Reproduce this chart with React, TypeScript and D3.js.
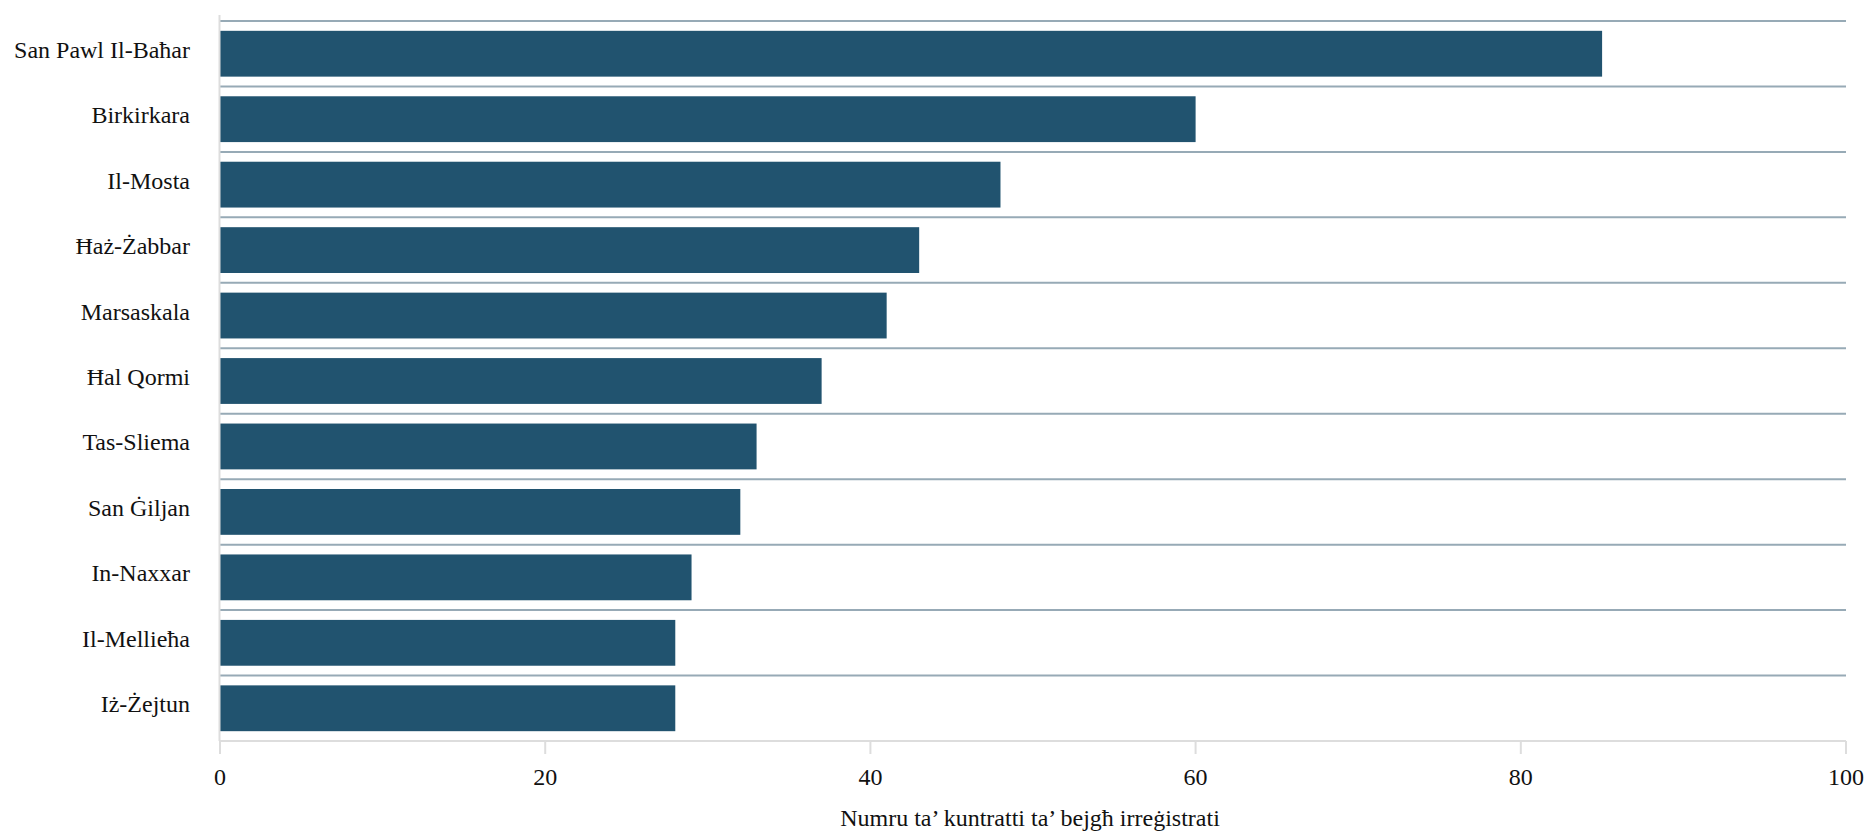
import React from "react";
import * as d3 from "d3";

const categories = [
  "San Pawl Il-Baħar",
  "Birkirkara",
  "Il-Mosta",
  "Ħaż-Żabbar",
  "Marsaskala",
  "Ħal Qormi",
  "Tas-Sliema",
  "San Ġiljan",
  "In-Naxxar",
  "Il-Mellieħa",
  "Iż-Żejtun",
];
const values = [85, 60, 48, 43, 41, 37, 33, 32, 29, 28, 28];
const xTicks = [0, 20, 40, 60, 80, 100];
const xTitle = "Numru ta’ kuntratti ta’ bejgħ irreġistrati";

const W = 1868;
const H = 833;
const M = { left: 220, right: 22, top: 21, bottom: 92 };
const FONT = '"Liberation Serif", "Times New Roman", "DejaVu Serif", serif';
const textStyle = { fontFamily: FONT, fontSize: 24 };

export default function App() {
  const x = d3.scaleLinear().domain([0, 100]).range([M.left, W - M.right]);
  const y = d3
    .scaleBand<string>()
    .domain(categories)
    .range([M.top, H - M.bottom])
    .paddingInner(0.3)
    .paddingOuter(0.15);
  const step = y.step();
  const axisY = H - M.bottom;

  return (
    <svg
      width={W}
      height={H}
      style={{ position: "absolute", left: 0, top: 0, background: "#fff" }}
    >
      {categories.map((c, i) => {
        const top = M.top + i * step;
        return (
          <line
            key={"g" + c}
            x1={x(0)}
            x2={x(100)}
            y1={top}
            y2={top}
            stroke="#97aab6"
            strokeWidth={2}
          />
        );
      })}
      {categories.map((c, i) => (
        <rect
          key={"b" + c}
          x={x(0)}
          y={y(c)}
          width={x(values[i]) - x(0)}
          height={y.bandwidth()}
          fill="#21536f"
        />
      ))}
      <line x1={x(0) - 0.5} x2={x(0) - 0.5} y1={M.top - 6} y2={axisY} stroke="#dddddd" strokeWidth={2} />
      <line x1={x(0)} x2={x(100)} y1={axisY} y2={axisY} stroke="#dddddd" strokeWidth={2} />
      {xTicks.map((t) => (
        <g key={"t" + t}>
          <line x1={x(t)} x2={x(t)} y1={axisY} y2={axisY + 13} stroke="#dddddd" strokeWidth={2} />
          <text x={x(t)} y={axisY + 44} textAnchor="middle" style={textStyle} fill="#111">
            {t}
          </text>
        </g>
      ))}
      {categories.map((c) => (
        <text
          key={"l" + c}
          x={190}
          y={(y(c) as number) + y.bandwidth() / 2 + 4}
          textAnchor="end"
          style={textStyle}
          fill="#111"
        >
          {c}
        </text>
      ))}
      <text x={(x(0) + x(100)) / 2 - 3} y={826} textAnchor="middle" style={textStyle} fill="#111">
        {xTitle}
      </text>
    </svg>
  );
}
